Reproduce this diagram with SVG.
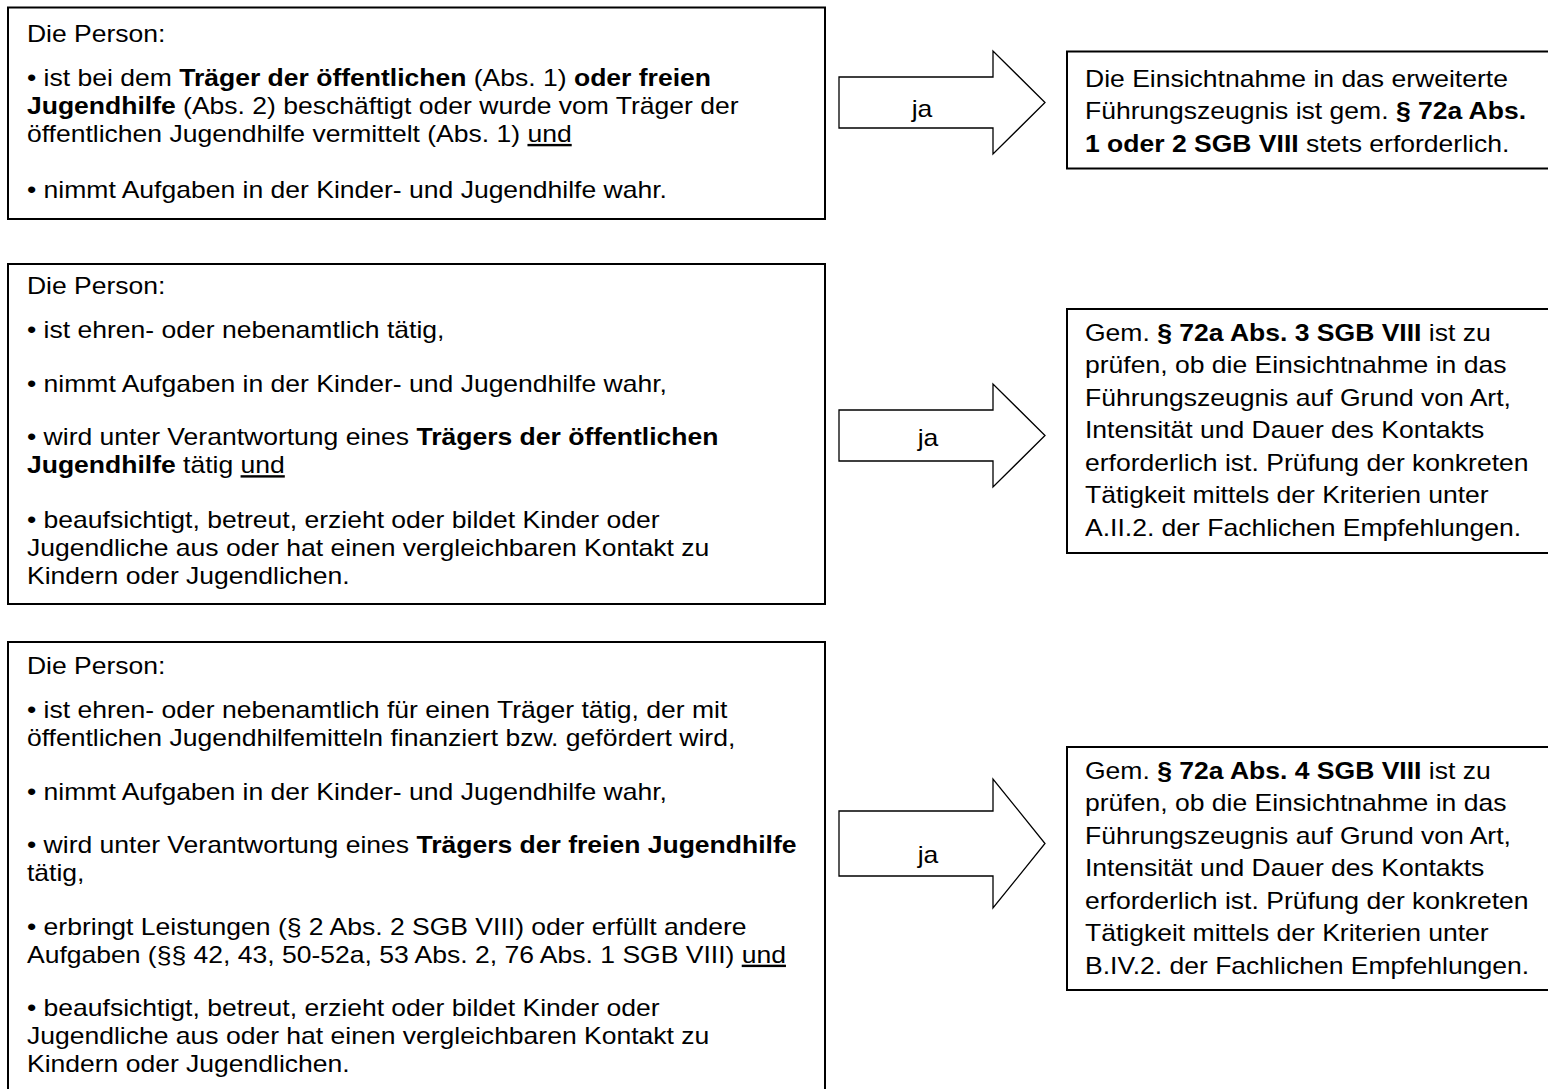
<svg xmlns="http://www.w3.org/2000/svg" width="1548" height="1089" viewBox="0 0 1548 1089">
<style>
.box{fill:#fff;stroke:#000;stroke-width:2}
.arr{fill:#fff;stroke:#000;stroke-width:1.3;stroke-linejoin:miter}
text{font-family:"Liberation Sans",Arial,sans-serif;font-size:24px;fill:#000}
.b{font-weight:bold}
.u{text-decoration:underline}
.ja{text-anchor:middle}
</style>
<rect width="1548" height="1089" fill="#fff"/>

<g id="connectors">
  <polygon class="arr" points="839,77 993,77 993,51 1045,102.5 993,154 993,128 839,128"/>
  <polygon class="arr" points="839,410 993,410 993,384 1045,435.5 993,487 993,461 839,461"/>
  <polygon class="arr" points="839,811 993,811 993,779 1045,843.5 993,908 993,876 839,876"/>
  <g transform="scale(1.105,1)">
    <text class="ja" x="834.4" y="117.3">ja</text>
    <text class="ja" x="839.8" y="445.7">ja</text>
    <text class="ja" x="839.8" y="863">ja</text>
  </g>
</g>

<g id="node-left-1">
  <rect class="box" x="8" y="7.5" width="817" height="211.5"/>
  <g transform="scale(1.105,1)">
    <text x="24.4" y="42">Die Person:</text>
    <text x="24.4" y="86">• ist bei dem <tspan class="b">Träger der öffentlichen</tspan> (Abs. 1) <tspan class="b">oder freien</tspan></text>
    <text x="24.4" y="114"><tspan class="b">Jugendhilfe</tspan> (Abs. 2) beschäftigt oder wurde vom Träger der</text>
    <text x="24.4" y="142">öffentlichen Jugendhilfe vermittelt (Abs. 1) <tspan class="u">und</tspan></text>
    <text x="24.4" y="198">• nimmt Aufgaben in der Kinder- und Jugendhilfe wahr.</text>
  </g>
</g>

<g id="node-left-2">
  <rect class="box" x="8" y="264" width="817" height="340"/>
  <g transform="scale(1.105,1)">
    <text x="24.4" y="294.3">Die Person:</text>
    <text x="24.4" y="338.3">• ist ehren- oder nebenamtlich tätig,</text>
    <text x="24.4" y="391.8">• nimmt Aufgaben in der Kinder- und Jugendhilfe wahr,</text>
    <text x="24.4" y="445.3">• wird unter Verantwortung eines <tspan class="b">Trägers der öffentlichen</tspan></text>
    <text x="24.4" y="473.3"><tspan class="b">Jugendhilfe</tspan> tätig <tspan class="u">und</tspan></text>
    <text x="24.4" y="528.3">• beaufsichtigt, betreut, erzieht oder bildet Kinder oder</text>
    <text x="24.4" y="556.3">Jugendliche aus oder hat einen vergleichbaren Kontakt zu</text>
    <text x="24.4" y="584.3">Kindern oder Jugendlichen.</text>
  </g>
</g>

<g id="node-left-3">
  <rect class="box" x="8" y="642" width="817" height="460"/>
  <g transform="scale(1.105,1)">
    <text x="24.4" y="674.3">Die Person:</text>
    <text x="24.4" y="718.3">• ist ehren- oder nebenamtlich für einen Träger tätig, der mit</text>
    <text x="24.4" y="746.3">öffentlichen Jugendhilfemitteln finanziert bzw. gefördert wird,</text>
    <text x="24.4" y="799.8">• nimmt Aufgaben in der Kinder- und Jugendhilfe wahr,</text>
    <text x="24.4" y="853.3">• wird unter Verantwortung eines <tspan class="b">Trägers der freien Jugendhilfe</tspan></text>
    <text x="24.4" y="881.3">tätig,</text>
    <text x="24.4" y="934.8">• erbringt Leistungen (§ 2 Abs. 2 SGB VIII) oder erfüllt andere</text>
    <text x="24.4" y="962.8">Aufgaben (§§ 42, 43, 50-52a, 53 Abs. 2, 76 Abs. 1 SGB VIII) <tspan class="u">und</tspan></text>
    <text x="24.4" y="1016.3">• beaufsichtigt, betreut, erzieht oder bildet Kinder oder</text>
    <text x="24.4" y="1044.3">Jugendliche aus oder hat einen vergleichbaren Kontakt zu</text>
    <text x="24.4" y="1072.3">Kindern oder Jugendlichen.</text>
  </g>
</g>

<g id="node-right-1">
  <rect class="box" x="1067" y="51.5" width="500" height="117"/>
  <g transform="scale(1.105,1)">
    <text x="981.9" y="86.7">Die Einsichtnahme in das erweiterte</text>
    <text x="981.9" y="119.2">Führungszeugnis ist gem. <tspan class="b">§ 72a Abs.</tspan></text>
    <text x="981.9" y="151.7"><tspan class="b">1 oder 2 SGB VIII</tspan> stets erforderlich.</text>
  </g>
</g>

<g id="node-right-2">
  <rect class="box" x="1067" y="309" width="500" height="244"/>
  <g transform="scale(1.105,1)">
    <text x="981.9" y="340.7">Gem. <tspan class="b">§ 72a Abs. 3 SGB VIII</tspan> ist zu</text>
    <text x="981.9" y="373.2">prüfen, ob die Einsichtnahme in das</text>
    <text x="981.9" y="405.7">Führungszeugnis auf Grund von Art,</text>
    <text x="981.9" y="438.2">Intensität und Dauer des Kontakts</text>
    <text x="981.9" y="470.7">erforderlich ist. Prüfung der konkreten</text>
    <text x="981.9" y="503.2">Tätigkeit mittels der Kriterien unter</text>
    <text x="981.9" y="535.7">A.II.2. der Fachlichen Empfehlungen.</text>
  </g>
</g>

<g id="node-right-3">
  <rect class="box" x="1067" y="747" width="500" height="243"/>
  <g transform="scale(1.105,1)">
    <text x="981.9" y="778.7">Gem. <tspan class="b">§ 72a Abs. 4 SGB VIII</tspan> ist zu</text>
    <text x="981.9" y="811.2">prüfen, ob die Einsichtnahme in das</text>
    <text x="981.9" y="843.7">Führungszeugnis auf Grund von Art,</text>
    <text x="981.9" y="876.2">Intensität und Dauer des Kontakts</text>
    <text x="981.9" y="908.7">erforderlich ist. Prüfung der konkreten</text>
    <text x="981.9" y="941.2">Tätigkeit mittels der Kriterien unter</text>
    <text x="981.9" y="973.7">B.IV.2. der Fachlichen Empfehlungen.</text>
  </g>
</g>
</svg>
